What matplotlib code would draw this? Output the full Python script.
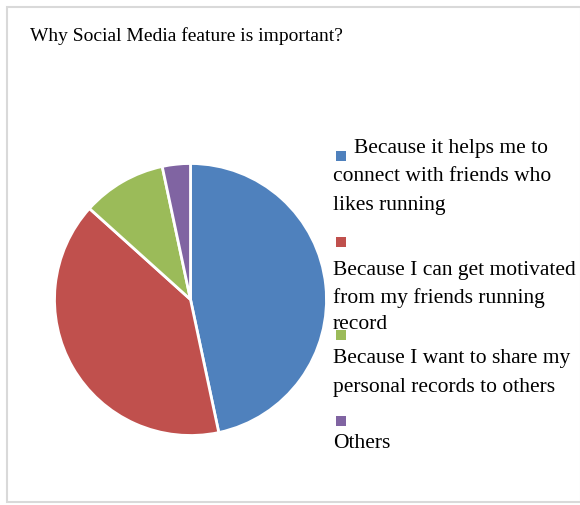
import matplotlib
matplotlib.use("Agg")
import matplotlib.pyplot as plt
from matplotlib.patches import Rectangle

# ── data ───────────────────────────────────────────────────────
title = "Why Social Media feature is important?"
labels = [
    "Because it helps me to connect with friends who likes running",
    "Because I can get motivated from my friends running record",
    "Because I want to share my personal records to others",
    "Others",
]
counts = [14, 12, 3, 1]
colors = ["#4F81BD", "#C0504D", "#9BBB59", "#8064A2"]

# legend text as wrapped in the original
legend_lines = [
    ["  Because it helps me to", "connect with friends who", "likes running"],
    ["", "Because I can get motivated", "from my friends running", "record"],
    ["", "Because I want to share my", "personal records to others"],
    ["", "Others"],
]

W, H = 580, 506
fig = plt.figure(figsize=(W / 100, H / 100), dpi=100)
fig.patch.set_facecolor("white")
plt.rcParams["font.family"] = ["Liberation Serif", "DejaVu Serif"]

# outer frame
fig.patches.append(Rectangle((7 / W, 1 - 503 / H), (W - 6) / W, (503 - 8) / H,
                             transform=fig.transFigure, fill=False,
                             edgecolor="#d9d9d9", linewidth=1.5))

fig.text(30 / W, 1 - 36 / H, title, fontsize=14, va="center", ha="left", color="black")

# pie
cx, cy, r = 190.5, 300.5, 136
ax = fig.add_axes([(cx - r) / W, 1 - (cy + r) / H, 2 * r / W, 2 * r / H])
ax.pie(counts, colors=colors, startangle=90, counterclock=False,
       wedgeprops=dict(edgecolor="white", linewidth=2))
ax.set_xlim(-1, 1); ax.set_ylim(-1, 1)
ax.set_aspect("equal")
ax.axis("off")

# legend
marker_y = [157, 243, 336, 422]
line_y = [[148, 177, 206], [243, 270, 298, 325], [336, 358, 388], [422, 443]]
for col, my, lines, ys in zip(colors, marker_y, legend_lines, line_y):
    fig.patches.append(Rectangle((336 / W, 1 - (my + 5) / H), 10 / W, 10 / H,
                                 transform=fig.transFigure, facecolor=col, edgecolor="none"))
    for txt, y in zip(lines, ys):
        if txt:
            x = 354 if txt.startswith("  ") else 333
            fig.text(x / W, 1 - y / H, txt.strip(), fontsize=15.5, va="center", ha="left")

fig.savefig("out.png", dpi=100)
